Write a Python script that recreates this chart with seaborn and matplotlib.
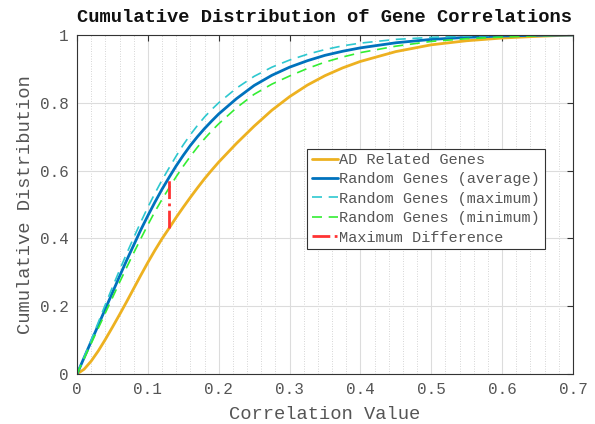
import numpy as np
import pandas as pd
import matplotlib
matplotlib.use("Agg")
import matplotlib.pyplot as plt
import seaborn as sns
from matplotlib.ticker import MultipleLocator, FuncFormatter

corr = [0, 0.01, 0.02, 0.03, 0.04, 0.05, 0.06, 0.07, 0.08, 0.09, 0.10,
        0.11, 0.12, 0.13, 0.14, 0.15, 0.16, 0.17, 0.18, 0.19, 0.20,
        0.225, 0.25, 0.275, 0.30, 0.325, 0.35, 0.375, 0.40,
        0.45, 0.50, 0.55, 0.60, 0.65, 0.70]

# Cumulative distributions
ad_genes = [0, 0.014, 0.038, 0.068, 0.102, 0.138, 0.175, 0.213, 0.252, 0.291, 0.329,
            0.365, 0.399, 0.43, 0.462, 0.492, 0.521, 0.549, 0.576, 0.601, 0.625,
            0.68, 0.731, 0.778, 0.818, 0.852, 0.88, 0.903, 0.922,
            0.951, 0.971, 0.983, 0.991, 0.996, 1.0]
rand_avg = [0, 0.048, 0.096, 0.144, 0.192, 0.24, 0.288, 0.335, 0.38, 0.425, 0.467,
            0.507, 0.545, 0.58, 0.614, 0.645, 0.674, 0.70, 0.724, 0.746, 0.767,
            0.812, 0.851, 0.881, 0.905, 0.924, 0.94, 0.952, 0.962,
            0.977, 0.987, 0.993, 0.997, 0.999, 1.0]
rand_max = [0, 0.05, 0.10, 0.152, 0.205, 0.256, 0.306, 0.355, 0.402, 0.448, 0.492,
            0.533, 0.572, 0.608, 0.643, 0.676, 0.706, 0.733, 0.758, 0.78, 0.80,
            0.843, 0.878, 0.905, 0.926, 0.943, 0.957, 0.968, 0.976,
            0.987, 0.993, 0.997, 0.999, 1.0, 1.0]
rand_min = [0, 0.045, 0.09, 0.135, 0.18, 0.225, 0.27, 0.314, 0.357, 0.399, 0.44,
            0.479, 0.515, 0.549, 0.582, 0.613, 0.642, 0.669, 0.694, 0.717, 0.738,
            0.785, 0.825, 0.855, 0.879, 0.901, 0.92, 0.935, 0.948,
            0.967, 0.981, 0.989, 0.994, 0.998, 1.0]

# Maximum difference marker
max_diff_x = [0.13, 0.13]
max_diff_y = [0.43, 0.58]

sns.set_style("white")
plt.rcParams["font.family"] = ["Liberation Mono", "DejaVu Sans Mono"]

fig = plt.figure(figsize=(5.95, 4.24), dpi=100)
ax = fig.add_axes([0.1294, 0.1179, 0.8336, 0.7996])

sns.lineplot(x=corr, y=ad_genes, ax=ax, color="#EDB120", linewidth=2.0,
             label="AD Related Genes")
sns.lineplot(x=corr, y=rand_avg, ax=ax, color="#0072BD", linewidth=2.0,
             label="Random Genes (average)")
sns.lineplot(x=corr, y=rand_max, ax=ax, color="#2EC8CF", linewidth=1.2,
             label="Random Genes (maximum)").lines[-1].set_dashes((6, 4))
sns.lineplot(x=corr, y=rand_min, ax=ax, color="#33EE33", linewidth=1.2,
             label="Random Genes (minimum)").lines[-1].set_dashes((6, 4))
sns.lineplot(x=max_diff_x, y=max_diff_y, ax=ax, color="#FF3333", linewidth=2.0,
             estimator=None, sort=False, label="Maximum Difference").lines[-1].set_linestyle("-.")

ax.set_xlim(0, 0.7)
ax.set_ylim(0, 1)
ax.xaxis.set_major_locator(MultipleLocator(0.1))
ax.xaxis.set_minor_locator(MultipleLocator(0.02))
ax.yaxis.set_major_locator(MultipleLocator(0.2))
fmt = FuncFormatter(lambda v, p: "0" if abs(v) < 1e-9 else ("1" if abs(v - 1) < 1e-9 else f"{v:g}"))
ax.xaxis.set_major_formatter(fmt)
ax.yaxis.set_major_formatter(fmt)

ax.grid(True, which="major", color="#dcdcdc", linewidth=0.8)
ax.grid(True, which="minor", axis="x", color="#c8c8c8", linestyle=(0, (1, 2)), linewidth=0.6)
ax.set_axisbelow(True)

for s in ax.spines.values():
    s.set_color("#333333")
    s.set_linewidth(0.8)
ax.tick_params(which="major", direction="in", length=4, top=True, right=True,
               color="#333333", labelcolor="#555555", labelsize=11.5, pad=6)
ax.tick_params(which="minor", length=0)

ax.set_xlabel("Correlation Value", fontsize=13.5, color="#555555", labelpad=6)
ax.set_ylabel("Cumulative Distribution", fontsize=13.5, color="#555555", labelpad=4)
ax.set_title("Cumulative Distribution of Gene Correlations", fontsize=13.5,
             fontweight="bold", color="#111111", pad=9)

leg = ax.legend(loc="upper left", bbox_to_anchor=(0.464, 0.665), fontsize=11,
                frameon=True, fancybox=False, edgecolor="#333333", framealpha=1,
                handlelength=1.7, handletextpad=0.1, borderpad=0.3, labelspacing=0.35,
                borderaxespad=0)
leg.get_frame().set_linewidth(0.8)
for t in leg.get_texts():
    t.set_color("#555555")

fig.savefig("out.png", dpi=100)
